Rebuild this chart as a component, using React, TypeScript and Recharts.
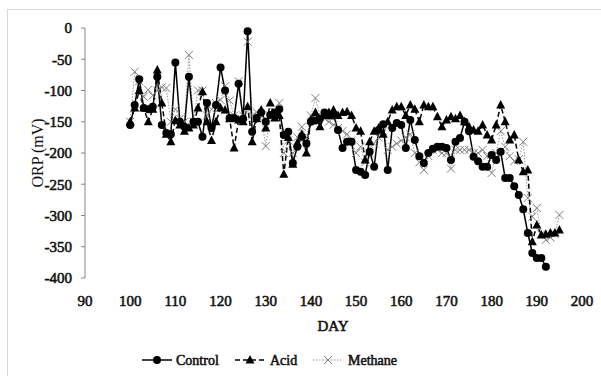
import { LineChart, Line, XAxis, YAxis, Label } from "recharts";

const controlDays = [
  100, 101, 102, 103, 104, 105, 106, 107, 108, 109, 110, 111, 112, 113, 114, 115, 116, 117, 118, 119,
  120, 121, 122, 123, 124, 125, 126, 127, 128, 129, 130, 131, 132, 133, 134, 135, 136, 137, 138, 139,
  140, 141, 142, 143, 144, 145, 146, 147, 148, 149, 150, 151, 152, 153, 154, 155, 156, 157, 158, 159,
  160, 161, 162, 163, 164, 165, 166, 167, 168, 169, 170, 171, 172, 173, 174, 175, 176, 177, 178, 179,
  180, 181, 182, 183, 184, 185, 186, 187, 188, 189, 190, 191, 192,
];
const controlOrp = [
  -155, -123, -82, -128, -130, -126, -78, -155, -168, -170, -55, -150, -158, -78, -150, -150, -174, -120, -160, -123,
  -63, -100, -144, -144, -89, -145, -5, -166, -144, -135, -150, -139, -135, -130, -171, -166, -216, -190, -174, -185,
  -150, -148, -145, -135, -140, -140, -163, -192, -182, -182, -227, -230, -235, -198, -222, -163, -154, -227, -160, -152,
  -155, -192, -147, -179, -205, -216, -200, -193, -190, -190, -192, -211, -182, -176, -150, -165, -206, -213, -222, -222,
  -203, -211, -198, -240, -240, -253, -267, -290, -328, -360, -368, -368, -382,
];

const acidDays = [
  100, 101, 102, 103, 104, 105, 106, 107, 108, 109, 110, 111, 112, 113, 114, 115, 116, 117, 118, 119,
  120, 121, 122, 123, 124, 125, 126, 127, 128, 129, 130, 131, 132, 133, 134, 135, 136, 137, 138, 139,
  140, 141, 142, 143, 144, 145, 146, 147, 148, 149, 150, 151, 152, 153, 154, 155, 156, 157, 158, 159,
  160, 161, 162, 163, 164, 165, 166, 167, 168, 169, 170, 171, 172, 173, 174, 175, 176, 177, 178, 179,
  180, 181, 182, 183, 184, 185, 186, 187, 188, 189, 190, 191, 192, 193, 194, 195,
];
const acidOrp = [
  -150, -128, -100, -128, -150, -130, -67, -120, -170, -182, -148, -155, -165, -160, -155, -128, -102, -150, -180, -150,
  -128, -131, -145, -192, -147, -150, -126, -182, -145, -131, -160, -120, -144, -140, -234, -175, -218, -184, -170, -200,
  -147, -135, -158, -140, -135, -131, -140, -135, -134, -140, -160, -165, -211, -182, -165, -160, -170, -150, -131, -126,
  -126, -140, -123, -130, -150, -123, -126, -126, -142, -158, -147, -142, -145, -140, -150, -158, -163, -165, -155, -171,
  -179, -155, -123, -150, -179, -171, -211, -230, -227, -342, -315, -331, -330, -328, -328, -323,
];

const methaneDays = acidDays;
const methaneOrp = [
  -150, -70, -85, -110, -99, -108, -100, -95, -96, -150, -130, -145, -150, -43, -150, -100, -100, -140, -130, -120,
  -115, -93, -116, -140, -85, -140, -22, -140, -135, -140, -189, -140, -135, -120, -200, -180, -200, -175, -158, -175,
  -140, -112, -140, -145, -150, -155, -160, -165, -170, -180, -200, -190, -215, -200, -185, -175, -165, -195, -190, -185,
  -180, -175, -170, -200, -215, -227, -205, -195, -195, -200, -200, -225, -195, -195, -195, -195, -200, -200, -195, -205,
  -232, -200, -165, -190, -205, -213, -210, -182, -272, -302, -288, -330, -339, -335, -330, -299,
];

const xTicks = [90, 100, 110, 120, 130, 140, 150, 160, 170, 180, 190, 200];
const yTicks = [0, -50, -100, -150, -200, -250, -300, -350, -400];

const toRows = (days: number[], vals: number[]) => days.map((d, i) => ({ day: d, orp: vals[i] }));
const controlData = toRows(controlDays, controlOrp);
const acidData = toRows(acidDays, acidOrp);
const methaneData = toRows(methaneDays, methaneOrp);

const FONT = "'Liberation Serif', 'Times New Roman', serif";
// regular serif thickened with a thin stroke, reads like the bold Times of the original
const boldText = { fontFamily: FONT, fontSize: 14, fill: "#111", stroke: "#111", strokeWidth: 0.55 };
const tickStyle = { ...boldText, fontSize: 15 };

const circleDot = (p: any) => (
  <circle key={`c-${p.index}`} cx={p.cx} cy={p.cy} r={4} fill="#000" stroke="none" />
);
const triDot = (p: any) => (
  <polygon
    key={`t-${p.index}`}
    points={`${p.cx},${p.cy - 5} ${p.cx + 4.5},${p.cy + 3.5} ${p.cx - 4.5},${p.cy + 3.5}`}
    fill="#000"
  />
);
const xDot = (p: any) => (
  <g key={`x-${p.index}`} stroke="#808080" strokeWidth={1}>
    <line x1={p.cx - 4} y1={p.cy - 4} x2={p.cx + 4} y2={p.cy + 4} />
    <line x1={p.cx - 4} y1={p.cy + 4} x2={p.cx + 4} y2={p.cy - 4} />
  </g>
);

function LegendRow() {
  return (
    <svg width={601} height={30} style={{ position: "absolute", left: 0, top: 346 }}>
      <line x1={142} y1={14} x2={172} y2={14} stroke="#000" strokeWidth={1.5} />
      <circle cx={157} cy={14} r={4} fill="#000" />
      <text x={176} y={19} {...boldText}>Control</text>
      <line x1={235} y1={14} x2={265} y2={14} stroke="#000" strokeWidth={1.5} strokeDasharray="5 3" />
      <polygon points="250,9 254.5,17.5 245.5,17.5" fill="#000" />
      <text x={270} y={19} {...boldText}>Acid</text>
      <line x1={313} y1={14} x2={343} y2={14} stroke="#999" strokeWidth={1} strokeDasharray="1.5 1.5" />
      <line x1={324} y1={10} x2={332} y2={18} stroke="#808080" />
      <line x1={324} y1={18} x2={332} y2={10} stroke="#808080" />
      <text x={348} y={19} {...boldText}>Methane</text>
    </svg>
  );
}

export default function App() {
  return (
    <div style={{ position: "absolute", left: 0, top: 0, width: 601, height: 376, background: "#fff" }}>
      <div
        style={{
          position: "absolute",
          left: 7,
          top: 9,
          right: 0,
          bottom: 0,
          borderLeft: "1px solid #d9d9d9",
          borderTop: "1px solid #d9d9d9",
        }}
      />
      <LineChart width={601} height={376} margin={{ top: 28, right: 19, left: 0, bottom: 68 }}>
        <XAxis
          xAxisId="top"
          orientation="top"
          type="number"
          dataKey="day"
          domain={[90, 200]}
          ticks={xTicks}
          height={0}
          mirror
          tick={false}
          tickSize={4}
          stroke="#868686"
        />
        <XAxis
          xAxisId="bottom"
          type="number"
          dataKey="day"
          domain={[90, 200]}
          ticks={xTicks}
          height={30}
          axisLine={false}
          tickLine={false}
          tickSize={0}
          tickMargin={17}
          tick={tickStyle}
        >
          <Label
            content={() => (
              <text x={333} y={331} textAnchor="middle" {...boldText} fontSize={15}>
                DAY
              </text>
            )}
          />
        </XAxis>
        <YAxis
          type="number"
          domain={[-400, 0]}
          ticks={yTicks}
          width={85}
          tickSize={4}
          tickMargin={9}
          stroke="#868686"
          tick={tickStyle}
        >
          <Label
            content={() => (
              <text
                x={37}
                y={153}
                transform="rotate(-90 37 153)"
                textAnchor="middle"
                dominantBaseline="central"
                fontFamily={FONT}
                fontSize={16}
                fill="#111"
              >
                ORP (mV)
              </text>
            )}
          />
        </YAxis>
        <Line
          xAxisId="bottom"
          data={methaneData}
          dataKey="orp"
          stroke="#999"
          strokeWidth={1}
          strokeDasharray="1.5 1.5"
          dot={xDot}
          isAnimationActive={false}
        />
        <Line
          xAxisId="bottom"
          data={acidData}
          dataKey="orp"
          stroke="#000"
          strokeWidth={1.5}
          strokeDasharray="5 3"
          dot={triDot}
          isAnimationActive={false}
        />
        <Line
          xAxisId="bottom"
          data={controlData}
          dataKey="orp"
          stroke="#000"
          strokeWidth={1.5}
          dot={circleDot}
          isAnimationActive={false}
        />
      </LineChart>
      <LegendRow />
    </div>
  );
}
